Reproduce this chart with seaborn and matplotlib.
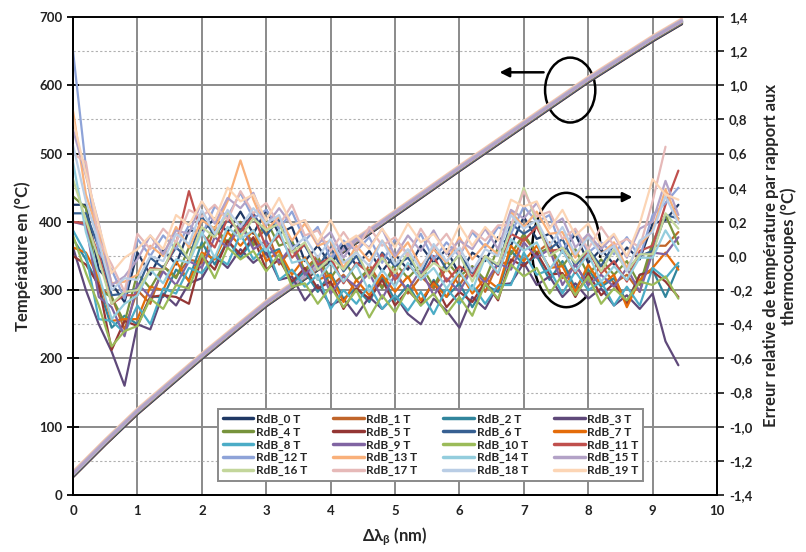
import matplotlib
matplotlib.use("Agg")
import matplotlib.pyplot as plt
import pandas as pd
import seaborn as sns
from matplotlib.lines import Line2D
from matplotlib.patches import Arc, Ellipse
from matplotlib.ticker import FuncFormatter, MultipleLocator

# --- data --------------------------------------------------------------
SERIES = [f"RdB_{i} T" for i in range(20)]
COLORS = ["#1f3864", "#c0652a", "#31859c", "#5f497a", "#77933c",
          "#943634", "#376092", "#e46c0a", "#4bacc6", "#8064a2",
          "#9bbb59", "#c0504d", "#8ea3d8", "#f9b07a", "#93cddd",
          "#b3a2c7", "#c3d69b", "#e6b9b8", "#b9cde5", "#fcd5b5"]

# temperature (left axis, °C) vs wavelength shift
TEMP_X = [0, 0.5, 1, 2, 3, 4, 5, 6, 7, 8, 9, 9.45]
TEMP_BASE = [30, 77, 122, 203, 280, 346, 412, 478, 543, 608, 668, 693]
TEMP_SHIFT = [-3, -2, -1, -2, -1, -1, 0, -3, 0, 0, 0, 0, 1, 2, 1, 1, 1, 3, 1, 4]
# drawing order of the temperature curves (last ones end up on top)
TEMP_ORDER = [7, 1, 13, 19, 17, 0, 3, 5, 2, 4, 6, 8, 9, 10, 11, 12, 14, 16, 18, 15]

# relative error (right axis), hundredths of °C, sampled every 0.2 nm
ERR_X = [0.0, 0.2, 0.4, 0.6, 0.8, 1.0, 1.2, 1.4, 1.6, 1.8, 2.0, 2.2, 2.4, 2.6,
         2.8, 3.0, 3.2, 3.4, 3.6, 3.8, 4.0, 4.2, 4.4, 4.6, 4.8, 5.0, 5.2, 5.4,
         5.6, 5.8, 6.0, 6.2, 6.4, 6.6, 6.8, 7.0, 7.2, 7.4, 7.6, 7.8, 8.0, 8.2,
         8.4, 8.6, 8.8, 9.0, 9.2, 9.4]
ERR_0 = [30, 30, -8, -16, -27, 2, -11, 4, -5, 15, 14, 22, 14, 26, 13, 27, 13, 17, -3, 6,
         -5, 7, -6, 3, -9, 1, -8, 6, -4, 4, -11, 2, -3, 11, 6, 23, 10, 13, 2, 13,
         -4, 4, -5, 5, -2, 19, 21, 30]
ERR_1 = [20, 19, -18, -24, -43, -20, -28, -6, -12, -2, -4, 16, 6, 17, 8, 16, -5, 4, -8, 0,
         -18, -11, -21, -5, -18, -8, -22, -12, -19, -7, -17, -6, -21, -4, -4, 11, 2, 8, -13, -5,
         -17, -5, -16, -11, -21, 6, 6, 14]
ERR_2 = [10, -2, -18, -42, -35, -40, -24, -24, -8, -14, 8, -5, 9, -1, 10, 1, 4, -16, -9, -21,
         -10, -25, -19, -27, -12, -26, -17, -29, -14, -24, -16, -30, -17, -21, 3, -5, 0, -14, -3, -19,
         -8, -18, -13, -27, -11, -8, -24, -6]
ERR_3 = [5, -20, -40, -56, -76, -40, -43, -22, -29, -16, -13, 0, -7, 4, -4, 2, -14, -12, -26, -17,
         -29, -25, -35, -24, -31, -23, -34, -40, -25, -32, -42, -24, -31, -17, -16, -4, -17, -12, -24, -16,
         -25, -19, -29, -23, -31, -22, -50, -64]
ERR_4 = [35, 28, -20, -24, -39, -10, -19, -6, -13, 5, 5, 17, 8, 20, 6, 21, 6, 9, -9, -1,
         -13, -2, -14, -8, -19, -4, -13, -5, -18, -3, -12, -6, -14, 5, 1, 13, 1, 5, -6, 4,
         -11, -2, -11, -3, -17, 8, 24, 7]
ERR_5 = [0, -5, -17, -55, -38, -41, -24, -23, -24, -28, 0, -8, 9, 1, 11, -8, -2, -15, -7, -19,
         -15, -31, -19, -25, -14, -29, -20, -28, -15, -30, -21, -27, -15, -26, -2, -6, 2, -11, -10, -24,
         -10, -23, -16, -28, -11, -9, -15, -24]
ERR_6 = [25, 25, 5, -23, -22, -19, -1, -7, 5, -2, 23, 12, 21, 15, 25, 12, 22, 6, 6, -7,
         5, -9, 0, -12, 2, -6, -1, -11, 5, -8, 1, -10, 0, -6, 19, 13, 18, 4, 10, -6,
         4, -6, 7, -8, 0, 3, 24, 22]
ERR_7 = [5, 2, -13, -38, -37, -37, -18, -20, -3, -15, 2, -2, 14, 6, 15, -3, 3, -11, -1, -14,
         -11, -27, -14, -23, -11, -21, -12, -26, -16, -24, -9, -22, -13, -19, 6, -3, 6, -7, -6, -21,
         -5, -17, -11, -30, -14, -7, 2, -8]
ERR_8 = [15, 1, -37, -38, -45, -29, -40, -19, -22, -7, -10, 0, -5, 13, -2, 6, -14, -8, -18, -11,
         -31, -20, -28, -17, -31, -23, -32, -21, -34, -19, -28, -17, -28, -17, -17, 2, -11, -8, -22, -9,
         -20, -15, -29, -18, -29, -7, -13, -4]
ERR_9 = [20, 18, -24, -30, -47, -16, -24, -9, -17, -3, -7, 11, 5, 19, 4, 9, -4, 6, -11, -3,
         -22, -12, -18, -10, -25, -11, -20, -8, -23, -13, -21, -7, -16, -4, -8, 8, -1, 4, -17, -5,
         -17, -11, -18, -7, -21, 2, 1, 11]
ERR_10 = [12, -10, -29, -53, -44, -41, -25, -31, -17, -19, 1, -13, 5, -2, 3, -9, 1, -18, -16, -28,
          -18, -30, -20, -36, -23, -33, -19, -29, -22, -34, -24, -35, -16, -25, -5, -12, -7, -22, -11, -23,
          -12, -28, -19, -26, -15, -17, -12, -25]
ERR_11 = [20, 19, 1, -28, -23, -23, -7, -8, 7, 38, 13, 5, 22, 14, 24, 5, 12, -1, 7, -5,
          -1, -16, -4, -10, 1, -14, -5, -13, 0, -15, -6, -12, 0, -11, 13, 9, 17, 3, 4, -10,
          3, -10, -3, -15, 3, 6, 30, 50]
ERR_12 = [120, 52, 2, -8, -25, 10, 0, 12, 4, 18, 12, 29, 23, 37, 22, 27, 16, 26, 9, 17,
          -2, 9, 3, 11, -4, 10, 1, 13, -2, 8, 0, 14, 5, 17, 13, 29, 20, 24, 3, 15,
          2, 8, 1, 11, -1, 24, 31, 40]
ERR_13 = [85, 36, 13, -16, -15, -11, 6, 0, 17, 5, 21, 16, 32, 56, 33, 15, 23, 9, 19, 6,
          9, -7, 6, -3, 9, -1, 8, -6, 4, -4, 11, -2, 7, 1, 26, 17, 26, 13, 14, -1,
          13, 1, 8, -7, 6, 15, 39, 21]
ERR_14 = [55, 14, -11, -37, -28, -23, -8, -16, -2, -4, 14, -1, 17, 10, 15, 3, 15, -4, -2, -14,
          -4, -15, -5, -21, -8, -18, -4, -14, -7, -19, -9, -20, -1, -10, 10, 3, 8, -8, 3, -9,
          1, -15, -6, -14, -1, -1, 15, 3]
ERR_15 = [74, 47, 19, -17, -12, -2, 12, 1, 15, 13, 32, 19, 34, 28, 37, 18, 28, 18, 21, 7,
          14, -1, 10, 5, 16, 0, 12, 3, 15, 1, 9, 4, 16, 4, 27, 22, 31, 17, 22, 5,
          13, 4, 12, -1, 16, 20, 44, 24]
ERR_16 = [45, 21, -2, -28, -21, -20, -8, -8, 9, -2, 17, 11, 26, 11, 22, 15, 19, 2, 8, -8,
          -1, -8, 3, -13, -1, -10, 2, -12, -4, -9, 1, -15, 0, -5, 16, 40, 20, 0, 5, -4,
          4, -9, 4, -9, 1, 1, 25, 16]
ERR_17 = [60, 55, 9, -5, -21, 13, 4, 16, 8, 27, 23, 30, 21, 38, 25, 31, 18, 30, 12, 15,
          3, 14, 3, 17, 6, 11, 0, 16, 4, 13, 1, 15, 9, 18, 18, 38, 23, 26, 10, 16,
          4, 17, 6, 10, 5, 32, 64]
ERR_18 = [65, 32, 8, -20, -13, -14, 0, -3, 13, 7, 27, 13, 27, 17, 28, 19, 24, 4, 11, -1,
          10, -4, 2, -6, 9, -5, 4, -8, 7, -3, 5, -9, 4, 0, 24, 16, 21, 6, 17, 1,
          11, 1, 6, -9, 9, 14, 35, 19]
ERR_19 = [80, 48, 18, -10, -1, 4, 12, 4, 24, 18, 32, 21, 40, 32, 36, 21, 34, 18, 21, 8,
          21, 7, 12, 4, 16, 5, 19, 8, 13, 2, 18, 6, 17, 9, 33, 29, 32, 16, 27, 12,
          19, 6, 13, 0, 19, 45, 36, 33]
ERRORS = [ERR_0, ERR_1, ERR_2, ERR_3, ERR_4, ERR_5, ERR_6, ERR_7, ERR_8, ERR_9,
          ERR_10, ERR_11, ERR_12, ERR_13, ERR_14, ERR_15, ERR_16, ERR_17, ERR_18, ERR_19]


def comma_fmt(v, _):
    if abs(v) < 1e-9:
        v = 0.0
    return f"{v:.1f}".replace(".", ",")


def main() -> None:
    sns.set_theme(style="white")
    plt.rcParams["font.family"] = ["Lato", "DejaVu Sans"]
    plt.rcParams["mathtext.default"] = "regular"

    # long-form tables
    temp_rows, err_rows = [], []
    for name, shift, vals in zip(SERIES, TEMP_SHIFT, ERRORS):
        for x, t in zip(TEMP_X, TEMP_BASE):
            temp_rows.append((name, x, t + shift))
        for x, e in zip(ERR_X, vals):
            err_rows.append((name, x, e / 100.0))
    temp_df = pd.DataFrame(temp_rows, columns=["serie", "dl", "temp"])
    err_df = pd.DataFrame(err_rows, columns=["serie", "dl", "err"])
    palette = dict(zip(SERIES, COLORS))

    fig = plt.figure(figsize=(8.06, 5.52), dpi=100)
    ax1 = fig.add_axes([0.0906, 0.1033, 0.799, 0.8659])
    ax2 = ax1.twinx()

    # grid
    ax1.set_xlim(0, 10)
    ax1.set_ylim(0, 700)
    ax1.xaxis.set_major_locator(MultipleLocator(1))
    ax1.yaxis.set_major_locator(MultipleLocator(100))
    ax1.yaxis.set_minor_locator(MultipleLocator(50))
    ax1.grid(True, which="major", color="#8a8a8a", lw=1.4)
    ax1.grid(True, which="minor", axis="y", color="#b0b0b0", lw=0.8, ls=(0, (2, 2)))
    ax1.set_axisbelow(True)

    sns.lineplot(data=temp_df, x="dl", y="temp", hue="serie", palette=palette,
                 hue_order=[SERIES[i] for i in TEMP_ORDER],
                 estimator=None, sort=False, lw=2.2, legend=False, ax=ax1)
    sns.lineplot(data=err_df, x="dl", y="err", hue="serie", palette=palette,
                 estimator=None, sort=False, lw=1.6, legend=False, ax=ax2)

    ax2.set_ylim(-1.4, 1.4)
    ax2.yaxis.set_major_locator(MultipleLocator(0.2))
    ax2.yaxis.set_major_formatter(FuncFormatter(comma_fmt))
    ax2.grid(False)

    for ax in (ax1, ax2):
        for sp in ax.spines.values():
            sp.set_color("black")
            sp.set_linewidth(1.3)
    ax1.spines["top"].set_color("#444444")

    ax1.tick_params(axis="both", which="major", direction="inout", length=8,
                    width=1.3, labelsize=9.5, colors="black")
    ax1.tick_params(axis="y", which="minor", length=0)
    ax2.tick_params(axis="y", direction="out", length=5, width=1.3, labelsize=9.5)
    for lab in ax1.get_xticklabels() + ax1.get_yticklabels() + ax2.get_yticklabels():
        lab.set_fontweight("bold")
        lab.set_color("#222222")

    ax1.set_xlabel("Δλ$_{β}$ (nm)", fontsize=12, fontweight="bold", labelpad=6)
    ax1.set_ylabel("Température en (°C)", fontsize=12, fontweight="bold", labelpad=6)
    ax2.set_ylabel("Erreur relative de température par rapport aux\nthermocoupes (°C)",
                   fontsize=12, fontweight="bold", labelpad=8, linespacing=1.1,
                   ha="center")

    # circled groups with arrows
    ax1.add_patch(Ellipse((7.72, 593), 0.78, 95, fill=False, color="black", lw=1.8))
    ax1.annotate("", xy=(6.58, 619), xytext=(7.35, 619),
                 arrowprops=dict(arrowstyle="-|>", color="black", lw=1.8, mutation_scale=14))
    ax2.add_patch(Arc((7.66, 0.035), 1.06, 0.67, theta1=-5, theta2=320,
                      color="black", lw=1.8))
    ax2.annotate("", xy=(8.73, 0.345), xytext=(7.93, 0.345),
                 arrowprops=dict(arrowstyle="-|>", color="black", lw=1.8, mutation_scale=14))

    # legend filled row by row like the original
    handles = [Line2D([0], [0], color=c, lw=2.5) for c in COLORS]
    order = [r * 4 + c for c in range(4) for r in range(5)]
    leg = ax2.legend([handles[i] for i in order], [SERIES[i] for i in order],
                     ncol=4, loc="lower left", bbox_to_anchor=(0.225, 0.029, 0.66, 0.169),
                     mode="expand", fontsize=8.5, frameon=True, fancybox=False,
                     handlelength=2.6, handletextpad=0.2, borderaxespad=0,
                     labelspacing=0.15, borderpad=0.4, columnspacing=0.8)
    leg.get_frame().set_edgecolor("#8a8a8a")
    leg.get_frame().set_linewidth(1.4)
    leg.get_frame().set_alpha(1)
    for t in leg.get_texts():
        t.set_fontweight("bold")

    fig.savefig("out.png", dpi=100)
    plt.close(fig)


if __name__ == "__main__":
    main()
